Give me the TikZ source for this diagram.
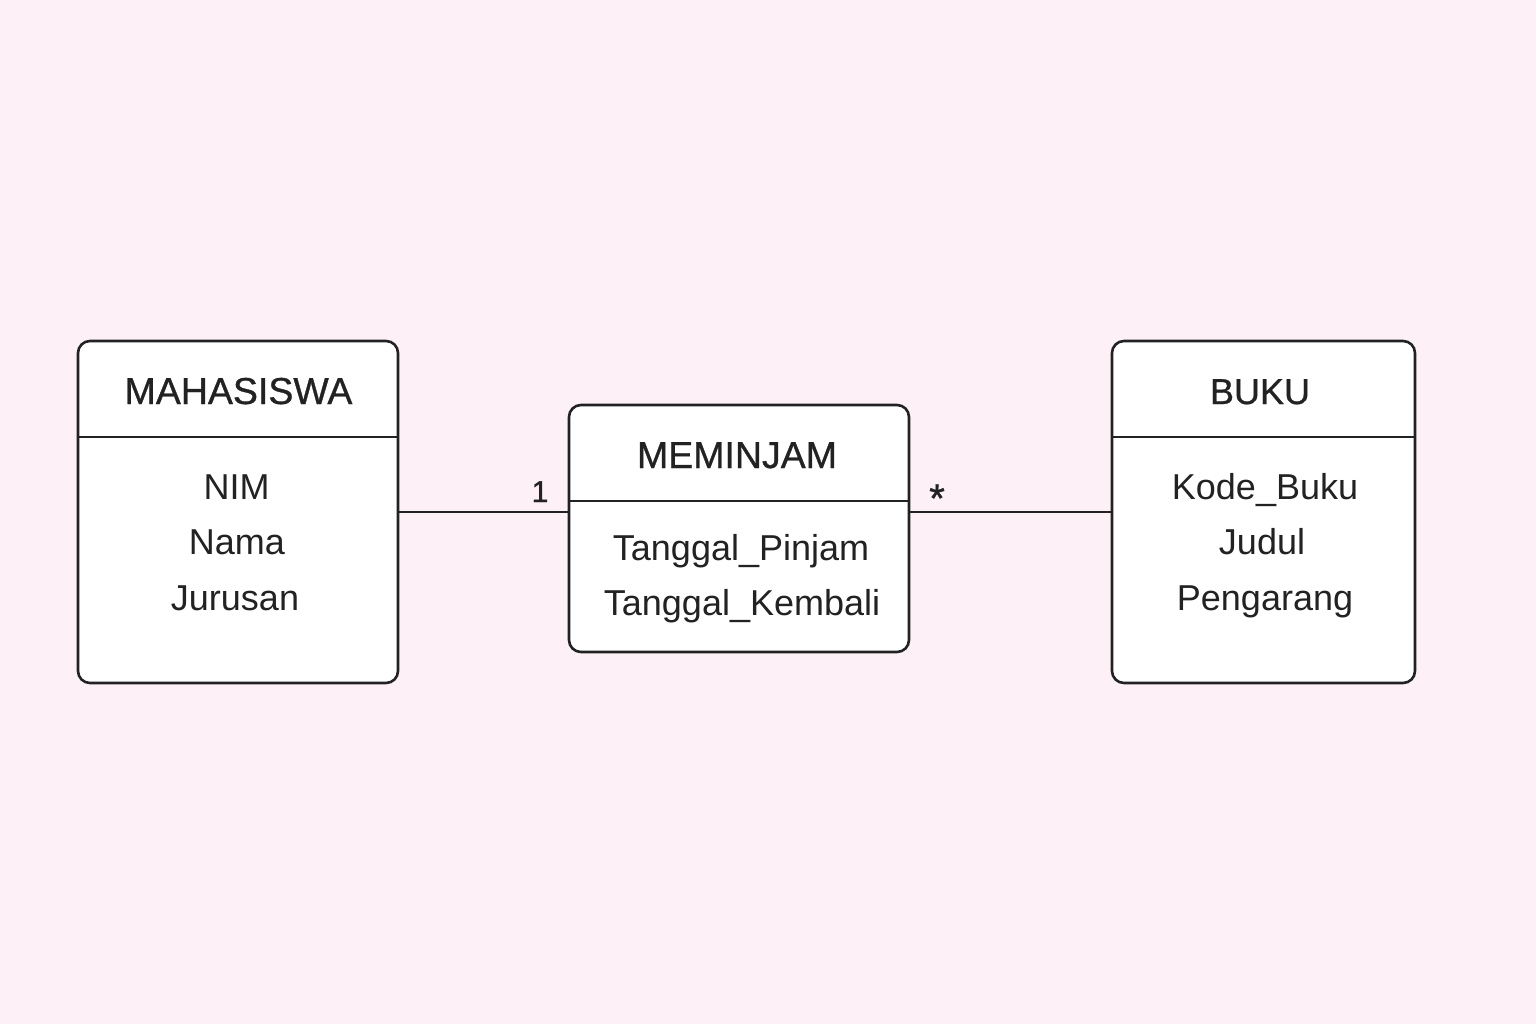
\documentclass[tikz,border=0pt]{standalone}
\usepackage{fontspec}
\setmainfont{Liberation Sans}
\newfontfamily\titlefont[FakeBold=0.8]{Liberation Sans}
\newfontfamily\multfont[FakeBold=1]{Liberation Sans}
\definecolor{bgpink}{HTML}{FDF0F7}
\definecolor{ink}{HTML}{222222}
\begin{document}
\begin{tikzpicture}[x=1pt,y=-1pt,
  entity/.style={draw=ink, line width=2.6pt, fill=white, rounded corners=12pt, inner sep=0pt, outer sep=0pt, anchor=north west},
  divider/.style={draw=ink, line width=2.6pt},
  conn/.style={draw=ink, line width=2.8pt},
  ttl/.style={font=\titlefont\fontsize{37.5}{42}\selectfont, text=ink, inner sep=0pt, anchor=base},
  attr/.style={font=\fontsize{36}{40}\selectfont, text=ink, inner sep=0pt, anchor=base},
  mult/.style={font=\multfont\fontsize{30}{34}\selectfont, text=ink, inner sep=0pt, anchor=base}]
\fill[bgpink] (0,0) rectangle (1536,1024);
\useasboundingbox (0,0) rectangle (1536,1024);
% boxes
\node[entity, minimum width=320pt, minimum height=342pt] (mah) at (78,341) {};
\node[entity, minimum width=340pt, minimum height=247pt] (mem) at (569,405) {};
\node[entity, minimum width=303pt, minimum height=342pt] (buk) at (1112,341) {};
% dividers
\coordinate (mahdl) at (78,437); \coordinate (mahdr) at (398,437);
\coordinate (memdl) at (569,501); \coordinate (memdr) at (909,501);
\coordinate (bukdl) at (1112,437); \coordinate (bukdr) at (1415,437);
\draw[divider] (mahdl) -- (mahdr);
\draw[divider] (memdl) -- (memdr);
\draw[divider] (bukdl) -- (bukdr);
% titles
\node[ttl] (mahT) at (238.5,404) {MAHASISWA};
\node[ttl] (memT) at (737,468) {MEMINJAM};
\node[ttl, font=\titlefont\fontsize{36}{40}\selectfont] (bukT) at (1260,404) {BUKU};
% attributes
\node[attr] (a1) at (236.5,499) {NIM};
\node[attr] (a2) at (237,554) {Nama};
\node[attr] (a3) at (235,610) {Jurusan};
\node[attr] (m1) at (741,560) {Tanggal\_Pinjam};
\node[attr] (m2) at (742,615) {Tanggal\_Kembali};
\node[attr] (b1) at (1265,499) {Kode\_Buku};
\node[attr] (b2) at (1262,554) {Judul};
\node[attr] (b3) at (1265,610) {Pengarang};
% connectors
\draw[conn] (mah.east) -- (mah.east -| mem.west);
\draw[conn] (buk.west -| mem.east) -- (buk.west);
% multiplicities
\node[mult] (one) at (540,502) {1};
\node[mult, font=\multfont\fontsize{40}{44}\selectfont] (many) at (937,512) {*};
\end{tikzpicture}
\end{document}
